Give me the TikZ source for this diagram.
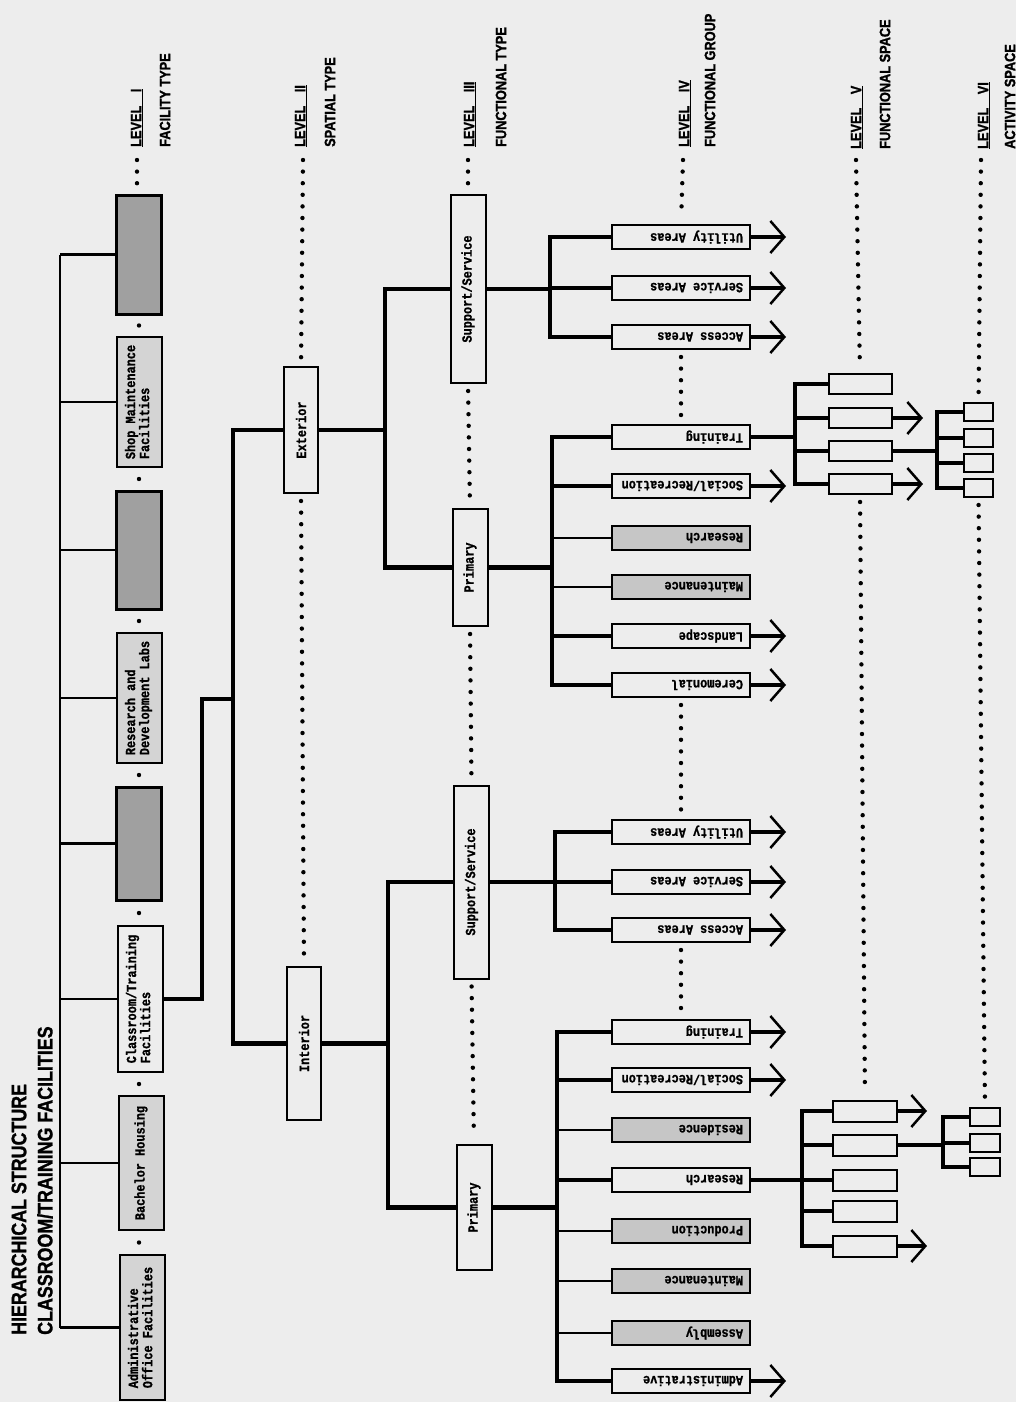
\documentclass[tikz,border=0pt]{standalone}
\usepackage{fontspec}
\setmainfont{Liberation Sans}
\newfontfamily\headfont[FakeStretch=0.85, BoldFeatures={FakeBold=1.2}]{Liberation Sans}
\newfontfamily\boxfont[FakeStretch=0.85, BoldFeatures={FakeBold=1}]{Liberation Mono}
\usetikzlibrary{arrows.meta}

\definecolor{paper}{RGB}{237,237,237}
\definecolor{darkdot}{RGB}{160,160,160}
\definecolor{lightdot}{RGB}{212,212,212}
\definecolor{grpdot}{RGB}{198,198,198}

\newcommand\vtext[1]{\rotatebox{90}{#1}}
\newcommand\vtwo[2]{\rotatebox{90}{\begin{tabular}{@{}l@{}}#1\\#2\end{tabular}}}
\newcommand\flip[1]{\rotatebox{180}{\makebox[124pt][l]{#1}}}

\begin{document}
\begin{tikzpicture}[x=1pt, y=-1pt,
    box/.style={draw, line width=2pt, fill=paper, inner sep=0pt, font=\boxfont\fontsize{14}{13}\selectfont\bfseries},
    facbox/.style={box, minimum width=45pt},
    spbox/.style={box, minimum width=35pt},
    grpbox/.style={box, minimum width=138pt, minimum height=24pt},
    fsbox/.style={box, minimum width=63pt, minimum height=20pt},
    acbox/.style={box, minimum width=29pt, minimum height=18pt},
    darkfac/.style={fill=darkdot, line width=3pt},
    lightfac/.style={fill=lightdot},
    grayfg/.style={fill=grpdot},
    thinln/.style={line width=2.2pt},
    thickln/.style={line width=4.5pt},
    arr/.style={thickln, -{Straight Barb[length=14pt, width=32pt, line width=2.5pt]}},
    dotrow/.style={line width=4.4pt, line cap=round, dash pattern=on 0pt off 11.6pt},
    lvl/.style={font=\headfont\fontsize{15}{15}\selectfont\bfseries, inner sep=0pt, anchor=south},
    ttl/.style={font=\headfont\fontsize{21}{21}\selectfont\bfseries, inner sep=0pt, anchor=south}]

    %paper
    \fill[paper] (0,0) rectangle (1016,1402);

    %title
    \node[ttl] (title1) at (19,1335) {\vtext{HIERARCHICAL STRUCTURE}};
    \node[ttl] (title2) at (45,1335) {\vtext{CLASSROOM/TRAINING FACILITIES}};

    %levels
    \node[lvl] (lv1) at (137,147) {\vtext{\underline{LEVEL\hspace{0.9em}I}}};
    \node[lvl] (ty1) at (165,147) {\vtext{FACILITY TYPE}};
    \node[lvl] (lv2) at (301,147) {\vtext{\underline{LEVEL\hspace{0.9em}II}}};
    \node[lvl] (ty2) at (330,147) {\vtext{SPATIAL TYPE}};
    \node[lvl] (lv3) at (470,147) {\vtext{\underline{LEVEL\hspace{0.9em}III}}};
    \node[lvl] (ty3) at (501,147) {\vtext{FUNCTIONAL TYPE}};
    \node[lvl] (lv4) at (685,147) {\vtext{\underline{LEVEL\hspace{0.9em}IV}}};
    \node[lvl] (ty4) at (710,147) {\vtext{FUNCTIONAL GROUP}};
    \node[lvl] (lv5) at (857,149) {\vtext{\underline{LEVEL\hspace{0.9em}V}}};
    \node[lvl] (ty5) at (885,149) {\vtext{FUNCTIONAL SPACE}};
    \node[lvl] (lv6) at (984,149) {\vtext{\underline{LEVEL\hspace{0.9em}VI}}};
    \node[lvl] (ty6) at (1010,149) {\vtext{ACTIVITY SPACE}};

    %level I : facility type
    \node[facbox, darkfac, minimum height=119pt] (L1a) at (139,254.5) {};
    \node[facbox, lightfac, minimum height=130pt] (L1b) at (139,402) {\vtwo{Shop Maintenance}{Facilities}};
    \node[facbox, darkfac, minimum height=118pt] (L1c) at (139,550) {};
    \node[facbox, lightfac, minimum height=130pt] (L1d) at (139,698) {\vtwo{Research and}{Development Labs}};
    \node[facbox, darkfac, minimum height=113pt] (L1e) at (139,843.5) {};
    \node[facbox, minimum height=146pt] (L1f) at (140,999) {\vtwo{Classroom/Training}{Facilities}};
    \node[facbox, lightfac, minimum height=134pt] (L1g) at (141,1163) {\vtext{Bachelor Housing}};
    \node[facbox, lightfac, minimum height=145pt] (L1h) at (142,1327.5) {\vtwo{Administrative}{Office Facilities}};

    %level II : spatial type
    \node[spbox, minimum width=34pt, minimum height=126pt] (L2ext) at (301,430) {\vtext{Exterior}};
    \node[spbox, minimum width=34pt, minimum height=153pt] (L2int) at (304,1043.5) {\vtext{Interior}};

    %level III : functional type
    \node[spbox, minimum height=188pt] (L3sse) at (468,289) {\vtext{Support/Service}};
    \node[spbox, minimum height=117pt] (L3pre) at (470,567.5) {\vtext{Primary}};
    \node[spbox, minimum height=193pt] (L3ssi) at (471.5,882) {\vtext{Support/Service}};
    \node[spbox, minimum height=125pt] (L3pri) at (474,1207.5) {\vtext{Primary}};

    %level IV : functional group, exterior
    \node[grpbox] (eUti) at (681,237) {\flip{Utility Areas}};
    \node[grpbox] (eSer) at (681,288) {\flip{Service Areas}};
    \node[grpbox] (eAcc) at (681,337) {\flip{Access Areas}};
    \node[grpbox] (eTra) at (681,437) {\flip{Training}};
    \node[grpbox] (eSoc) at (681,486) {\flip{Social/Recreation}};
    \node[grpbox, grayfg] (eRes) at (681,538) {\flip{Research}};
    \node[grpbox, grayfg] (eMai) at (681,587) {\flip{Maintenance}};
    \node[grpbox] (eLan) at (681,636) {\flip{Landscape}};
    \node[grpbox] (eCer) at (681,685) {\flip{Ceremonial}};

    %level IV : functional group, interior
    \node[grpbox] (iUti) at (681,832) {\flip{Utility Areas}};
    \node[grpbox] (iSer) at (681,882) {\flip{Service Areas}};
    \node[grpbox] (iAcc) at (681,930) {\flip{Access Areas}};
    \node[grpbox] (iTra) at (681,1032) {\flip{Training}};
    \node[grpbox] (iSoc) at (681,1080) {\flip{Social/Recreation}};
    \node[grpbox, grayfg] (iRsd) at (681,1130) {\flip{Residence}};
    \node[grpbox] (iRes) at (681,1180) {\flip{Research}};
    \node[grpbox, grayfg] (iPro) at (681,1231) {\flip{Production}};
    \node[grpbox, grayfg] (iMai) at (681,1281) {\flip{Maintenance}};
    \node[grpbox, grayfg] (iAss) at (681,1333) {\flip{Assembly}};
    \node[grpbox] (iAdm) at (681,1381) {\flip{Administrative}};

    %level V and VI
    \node[fsbox] (f1) at (860,384) {};
    \node[fsbox] (f2) at (860,418) {};
    \node[fsbox] (f3) at (860,451) {};
    \node[fsbox] (f4) at (860,484) {};
    \node[acbox] (a1) at (978.5,412) {};
    \node[acbox] (a2) at (978.5,438) {};
    \node[acbox] (a3) at (978.5,463) {};
    \node[acbox] (a4) at (978.5,488) {};

    \node[fsbox, minimum width=64pt, minimum height=21pt] (g1) at (865,1111) {};
    \node[fsbox, minimum width=64pt, minimum height=21pt] (g2) at (865,1145) {};
    \node[fsbox, minimum width=64pt, minimum height=21pt] (g3) at (865,1180) {};
    \node[fsbox, minimum width=64pt, minimum height=21pt] (g4) at (865,1211) {};
    \node[fsbox, minimum width=64pt, minimum height=21pt] (g5) at (865,1246) {};
    \node[acbox, minimum width=30pt] (b1) at (985,1117) {};
    \node[acbox, minimum width=30pt] (b2) at (985,1143) {};
    \node[acbox, minimum width=30pt] (b3) at (985,1167) {};

    %spines
    \coordinate (sp1) at (60,0);
    \coordinate (sp2) at (233,0);
    \coordinate (jog) at (202,699);
    \coordinate (sp3a) at (385,0);
    \coordinate (sp3b) at (388,0);
    \coordinate (sp4a) at (550,0);
    \coordinate (sp4b) at (552,0);
    \coordinate (sp4c) at (555,0);
    \coordinate (sp4d) at (557,0);
    \coordinate (sp5a) at (795,0);
    \coordinate (sp5b) at (802,0);
    \coordinate (sp6a) at (937,0);
    \coordinate (sp6b) at (943,0);
    \coordinate (tip4) at (786,0);
    \coordinate (tip5a) at (923,0);
    \coordinate (tip5b) at (927,0);

    %tree I
    \draw[thinln] (sp1 |- L1a.west) -- (sp1 |- L1h.west);
    \foreach \n in {a,b,c,d,e,f,g,h}
        \draw[thinln] (L1\n.west) -- (sp1 |- L1\n.west);

    %tree II
    \draw[thickln] (L1f.east) -| (jog) -- (sp2 |- jog);
    \draw[thickln] (L2ext.west) -- (sp2 |- L2ext.west) -- (sp2 |- L2int.west) -- (L2int.west);

    %tree III
    \draw[thickln] (L2ext.east) -- (sp3a |- L2ext.east);
    \draw[thickln] (L3sse.west) -- (sp3a |- L3sse.west) -- (sp3a |- L3pre.west) -- (L3pre.west);
    \draw[thickln] (L2int.east) -- (sp3b |- L2int.east);
    \draw[thickln] (L3ssi.west) -- (sp3b |- L3ssi.west) -- (sp3b |- L3pri.west) -- (L3pri.west);

    %tree IV exterior
    \draw[thickln] (L3sse.east) -- (sp4a |- L3sse.east);
    \draw[thickln] (eUti.west) -- (sp4a |- eUti.west) -- (sp4a |- eAcc.west) -- (eAcc.west);
    \draw[thickln] (eSer.west) -- (sp4a |- eSer.west);
    \draw[thickln] (L3pre.east) -- (sp4b |- L3pre.east);
    \draw[thickln] (eTra.west) -- (sp4b |- eTra.west) -- (sp4b |- eCer.west) -- (eCer.west);
    \draw[thickln] (eSoc.west) -- (sp4b |- eSoc.west);
    \draw[thickln] (eLan.west) -- (sp4b |- eLan.west);
    \draw[thinln] (eRes.west) -- (sp4b |- eRes.west);
    \draw[thinln] (eMai.west) -- (sp4b |- eMai.west);

    %tree IV interior
    \draw[thickln] (L3ssi.east) -- (sp4c |- L3ssi.east);
    \draw[thickln] (iUti.west) -- (sp4c |- iUti.west) -- (sp4c |- iAcc.west) -- (iAcc.west);
    \draw[thickln] (iSer.west) -- (sp4c |- iSer.west);
    \draw[thickln] (L3pri.east) -- (sp4d |- L3pri.east);
    \draw[thickln] (iTra.west) -- (sp4d |- iTra.west) -- (sp4d |- iAdm.west) -- (iAdm.west);
    \draw[thickln] (iSoc.west) -- (sp4d |- iSoc.west);
    \draw[thickln] (iRes.west) -- (sp4d |- iRes.west);
    \draw[thinln] (iRsd.west) -- (sp4d |- iRsd.west);
    \draw[thinln] (iPro.west) -- (sp4d |- iPro.west);
    \draw[thinln] (iMai.west) -- (sp4d |- iMai.west);
    \draw[thinln] (iAss.west) -- (sp4d |- iAss.west);

    %arrows IV
    \foreach \n in {eUti,eSer,eAcc,eSoc,eLan,eCer,iUti,iSer,iAcc,iTra,iSoc,iAdm}
        \draw[arr] (\n.east) -- (\n.east -| tip4);

    %tree V / VI exterior
    \draw[thickln] (eTra.east) -- (sp5a |- eTra.east);
    \draw[thickln] (f1.west) -- (sp5a |- f1.west) -- (sp5a |- f4.west) -- (f4.west);
    \draw[thickln] (f2.west) -- (sp5a |- f2.west);
    \draw[thickln] (f3.west) -- (sp5a |- f3.west);
    \draw[arr] (f2.east) -- (f2.east -| tip5a);
    \draw[arr] (f4.east) -- (f4.east -| tip5a);
    \draw[thickln] (f3.east) -- (sp6a |- f3.east);
    \draw[thickln] (a1.west) -- (sp6a |- a1.west) -- (sp6a |- a4.west) -- (a4.west);
    \draw[thickln] (a2.west) -- (sp6a |- a2.west);
    \draw[thickln] (a3.west) -- (sp6a |- a3.west);

    %tree V / VI interior
    \draw[thickln] (iRes.east) -- (sp5b |- iRes.east);
    \draw[thickln] (g1.west) -- (sp5b |- g1.west) -- (sp5b |- g5.west) -- (g5.west);
    \draw[thickln] (g2.west) -- (sp5b |- g2.west);
    \draw[thickln] (g3.west) -- (sp5b |- g3.west);
    \draw[thickln] (g4.west) -- (sp5b |- g4.west);
    \draw[arr] (g1.east) -- (g1.east -| tip5b);
    \draw[arr] (g5.east) -- (g5.east -| tip5b);
    \draw[thickln] (g2.east) -- (sp6b |- g2.east);
    \draw[thickln] (b1.west) -- (sp6b |- b1.west) -- (sp6b |- b3.west) -- (b3.west);
    \draw[thickln] (b2.west) -- (sp6b |- b2.west);

    %dots
    \draw[dotrow] (137,160) -- (137,190);
    \foreach \y in {325.5,479,621,775,913,1084,1242.5}
        \fill (139,\y) circle (2.2pt);
    \draw[dotrow, shorten >=7pt] (303,160) -- (L2ext.north);
    \draw[dotrow, shorten <=7pt, shorten >=7pt] (L2ext.south) -- (L2int.north);
    \draw[dotrow, shorten >=7pt] (468,160) -- (L3sse.north);
    \draw[dotrow, shorten <=7pt, shorten >=7pt] (L3sse.south) -- (L3pre.north);
    \draw[dotrow, shorten <=7pt, shorten >=7pt] (L3pre.south) -- (L3ssi.north);
    \draw[dotrow, shorten <=7pt, shorten >=7pt] (L3ssi.south) -- (L3pri.north);
    \draw[dotrow, shorten >=7pt] (683,160) -- (eUti.north);
    \draw[dotrow, shorten <=7pt, shorten >=7pt] (eAcc.south) -- (eTra.north);
    \draw[dotrow, shorten <=7pt, shorten >=7pt] (eCer.south) -- (iUti.north);
    \draw[dotrow, shorten <=7pt, shorten >=7pt] (iAcc.south) -- (iTra.north);
    \draw[dotrow, shorten >=7pt] (856,160) -- (f1.north);
    \draw[dotrow, shorten <=7pt, shorten >=7pt] (f4.south) -- (g1.north);
    \draw[dotrow, shorten >=7pt] (981,160) -- (a1.north);
    \draw[dotrow, shorten <=7pt, shorten >=7pt] (a4.south) -- (b1.north);

\end{tikzpicture}
\end{document}
